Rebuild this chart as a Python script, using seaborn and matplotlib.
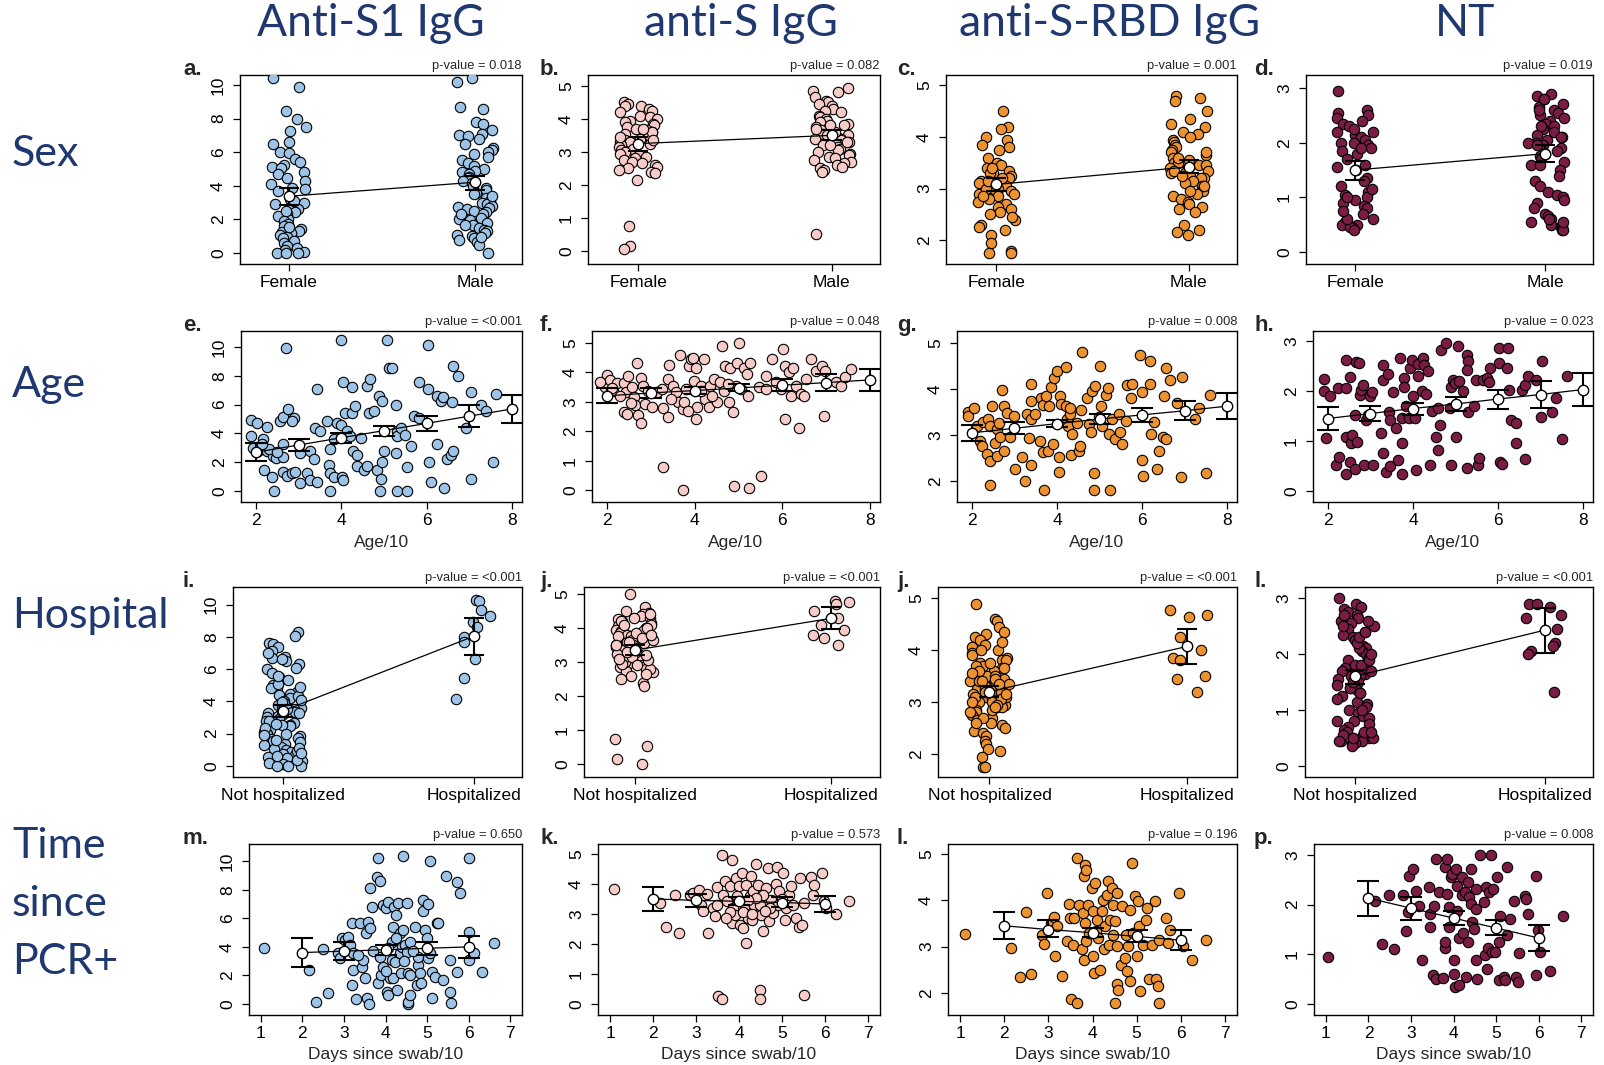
import numpy as np
import pandas as pd
import matplotlib
matplotlib.use("Agg")
import matplotlib.pyplot as plt
import seaborn as sns

sns.set_theme(style="white")
plt.rcParams['font.family'] = ['Liberation Sans', 'DejaVu Sans']
np.random.seed(7)  # reproducible strip jitter only

# ------------------------------------------------------------------ labels
col_titles = ["Anti-S1 IgG", "anti-S IgG", "anti-S-RBD IgG", "NT"]
row_titles = [["Sex"], ["Age"], ["Hospital"], ["Time", "since", "PCR+"]]
letters = [["a.", "b.", "c.", "d."], ["e.", "f.", "g.", "h."],
           ["i.", "j.", "j.", "l."], ["m.", "k.", "l.", "p."]]
pvalues = [["0.018", "0.082", "0.001", "0.019"],
           ["<0.001", "0.048", "0.008", "0.023"],
           ["<0.001", "<0.001", "<0.001", "<0.001"],
           ["0.650", "0.573", "0.196", "0.008"]]
sex_levels = ["Female", "Male"]
hosp_levels = ["Not hospitalized", "Hospitalized"]
colors = ["#9DC3E6", "#F6CBC8", "#EC9230", "#7A1C44"]

# ------------------------------------------------------------------ row 1: sex
s1_female = [10.4, 9.9, 8.45, 8.0, 7.5, 7.25, 6.6, 6.5, 6.0, 5.95, 5.6, 5.45, 5.25, 5.15, 5.05, 4.8, 4.7,
             4.45, 4.3, 4.1, 3.85, 3.8, 3.7, 3.2, 3.0, 2.9, 2.7, 2.6, 2.45, 2.35, 2.2, 2.0, 1.9, 1.75, 1.6,
             1.45, 1.3, 1.25, 1.2, 1.1, 0.95, 0.9, 0.7, 0.6, 0.45, 0.3, 0.2, 0.05, 0.0, 0.0, 0.0, 2.5, 3.1, 1.55]
s1_male = [10.45, 10.2, 8.7, 8.6, 7.8, 7.7, 7.35, 7.1, 7.05, 6.95, 6.8, 6.5, 6.25, 6.15, 6.0, 5.9, 5.7, 5.55,
           5.35, 5.2, 5.0, 4.9, 4.8, 4.7, 4.55, 4.45, 4.3, 4.2, 4.0, 3.9, 3.75, 3.6, 3.5, 3.3, 3.1, 3.0, 2.9,
           2.8, 2.75, 2.7, 2.6, 2.5, 2.45, 2.3, 2.2, 2.1, 2.05, 1.95, 1.8, 1.65, 1.5, 1.4, 1.3, 1.2, 1.1, 1.0,
           0.9, 0.8, 0.65, 0.5, 0.0, 3.4, 2.35, 1.7, 0.95]
s_female = [4.5, 4.45, 4.4, 4.4, 4.3, 4.25, 4.2, 4.1, 4.05, 4.0, 3.95, 3.9, 3.85, 3.8, 3.75, 3.7, 3.65, 3.6,
            3.55, 3.5, 3.45, 3.4, 3.35, 3.3, 3.3, 3.25, 3.2, 3.15, 3.1, 3.05, 3.0, 2.95, 2.9, 2.85, 2.8, 2.75,
            2.7, 2.65, 2.6, 2.55, 2.5, 2.45, 2.4, 2.35, 2.15, 3.5, 3.6, 3.7, 3.35, 3.45, 0.75, 0.15, 0.05]
s_male = [4.95, 4.85, 4.8, 4.65, 4.55, 4.5, 4.45, 4.4, 4.3, 4.25, 4.2, 4.1, 4.05, 4.0, 3.95, 3.9, 3.85, 3.8,
          3.75, 3.7, 3.65, 3.6, 3.55, 3.55, 3.5, 3.5, 3.45, 3.45, 3.4, 3.4, 3.35, 3.3, 3.25, 3.2, 3.15, 3.1,
          3.05, 3.0, 2.95, 2.9, 2.85, 2.8, 2.75, 2.7, 2.65, 2.6, 2.55, 2.5, 2.45, 2.4, 3.6, 3.7, 3.3, 3.8,
          3.2, 0.5]
rbd_female = [4.5, 4.2, 4.15, 4.0, 3.95, 3.85, 3.8, 3.75, 3.6, 3.5, 3.45, 3.4, 3.35, 3.3, 3.25, 3.2, 3.15,
              3.1, 3.1, 3.05, 3.0, 3.0, 2.95, 2.9, 2.85, 2.8, 2.75, 2.7, 2.65, 2.6, 2.55, 2.5, 2.4, 2.3, 2.25,
              2.2, 2.1, 1.95, 1.8, 1.75, 1.75, 3.2, 3.3, 3.1, 3.0, 2.9, 3.4, 2.85, 3.15, 2.45]
rbd_male = [4.8, 4.75, 4.7, 4.5, 4.35, 4.25, 4.2, 4.1, 4.05, 4.0, 3.95, 3.9, 3.85, 3.8, 3.75, 3.7, 3.65, 3.6,
            3.55, 3.5, 3.5, 3.45, 3.45, 3.4, 3.4, 3.35, 3.3, 3.3, 3.25, 3.2, 3.2, 3.15, 3.1, 3.05, 3.0, 2.95,
            2.9, 2.85, 2.8, 2.75, 2.7, 2.65, 2.6, 2.55, 2.3, 2.2, 2.15, 2.1, 3.35, 3.6, 3.7, 3.25, 3.05, 2.95]
nt_female = [2.95, 2.6, 2.55, 2.5, 2.45, 2.4, 2.35, 2.3, 2.2, 2.15, 2.1, 2.05, 2.0, 1.95, 1.9, 1.85, 1.8, 1.7,
             1.6, 1.55, 1.5, 1.35, 1.3, 1.2, 1.1, 1.05, 1.0, 0.95, 0.9, 0.85, 0.8, 0.7, 0.6, 0.55, 0.55, 0.5,
             0.5, 0.45, 0.45, 0.4, 1.0, 2.2, 2.0, 0.6, 2.25, 1.15, 0.75, 1.9]
nt_male = [2.9, 2.85, 2.8, 2.7, 2.65, 2.6, 2.55, 2.5, 2.45, 2.4, 2.35, 2.3, 2.25, 2.2, 2.15, 2.1, 2.05, 2.0,
           1.95, 1.9, 1.85, 1.8, 1.75, 1.7, 1.65, 1.6, 1.5, 1.4, 1.3, 1.2, 1.1, 1.05, 1.0, 0.95, 0.9, 0.8, 0.7,
           0.65, 0.6, 0.55, 0.5, 0.5, 0.45, 0.45, 0.4, 0.4, 2.0, 2.1, 1.95, 2.6, 2.8, 0.55, 0.6, 1.6, 2.3]

# group means and 95% CI (Female, Male)
sex_mean = [[3.38, 4.22], [3.25, 3.5], [3.08, 3.42], [1.5, 1.8]]
sex_lo = [[2.88, 3.75], [3.02, 3.35], [2.95, 3.3], [1.32, 1.65]]
sex_hi = [[3.9, 4.6], [3.45, 3.65], [3.2, 3.55], [1.67, 1.95]]

# ------------------------------------------------------------------ row 2: age (x = Age/10, y)
age_s1 = [(1.88, 4.9), (2.03, 4.75), (2.25, 4.45), (1.88, 3.8), (1.94, 3.0), (2.17, 3.6), (2.05, 2.75),
          (2.25, 2.75), (2.2, 1.5), (2.37, 1.0), (2.4, 2.45), (2.42, 0.0), (2.47, 2.3), (2.56, 4.85),
          (2.64, 5.15), (2.76, 5.7), (2.88, 5.1), (2.84, 4.85), (2.7, 9.95), (2.64, 3.3), (2.64, 2.4),
          (2.64, 1.3), (2.72, 1.05), (2.84, 1.25), (2.92, 1.3), (3.03, 0.55), (3.03, 2.65), (3.19, 1.25),
          (3.27, 0.75), (3.27, 2.75), (3.35, 2.2), (3.39, 4.4), (3.43, 7.1), (3.43, 0.65), (3.5, 4.15),
          (3.66, 4.85), (3.74, 2.9), (3.72, 1.8), (3.74, 1.25), (3.74, 0.0), (3.82, 1.0), (3.82, 3.6),
          (3.9, 4.75), (3.98, 4.6), (4.0, 10.45), (4.02, 1.0), (4.05, 0.75), (4.05, 7.6), (4.09, 5.45),
          (4.13, 4.15), (4.2, 3.8), (4.25, 7.2), (4.27, 2.75), (4.25, 5.45), (4.33, 5.9), (4.37, 2.5),
          (4.37, 1.75), (4.45, 3.7), (4.53, 1.45), (4.6, 1.75), (4.6, 7.3), (4.66, 7.8), (4.64, 5.45),
          (4.76, 5.55), (4.84, 1.45), (4.88, 6.6), (4.92, 0.85), (4.9, 0.0), (4.96, 6.25), (4.96, 2.05),
          (5.0, 2.75), (5.07, 10.45), (5.11, 8.55), (5.19, 8.55), (5.27, 5.95), (5.27, 2.65), (5.31, 4.15),
          (5.31, 3.8), (5.31, 0.0), (5.39, 4.4), (5.5, 3.9), (5.54, 1.7), (5.54, 0.0), (5.62, 3.1),
          (5.7, 5.2), (5.82, 5.1), (5.82, 7.6), (6.02, 7.1), (6.02, 10.15), (6.06, 2.0), (6.1, 0.65),
          (6.25, 3.3), (6.25, 6.6), (6.33, 6.25), (6.37, 6.5), (6.41, 0.2), (6.47, 2.2), (6.56, 2.5),
          (6.6, 6.15), (6.62, 2.75), (6.62, 8.7), (6.72, 8.0), (7.04, 6.9), (6.92, 4.4), (7.04, 0.85),
          (7.27, 6.0), (7.39, 5.55), (7.55, 2.0), (7.62, 6.7), (2.3, 2.9), (2.5, 2.7), (2.15, 3.3)]
age_s = [(1.91, 3.6), (1.95, 3.5), (2.0, 3.9), (2.05, 3.75), (1.83, 3.66), (2.14, 3.38), (2.23, 3.64),
         (2.37, 3.64), (2.37, 2.65), (2.46, 2.6), (2.48, 3.86), (2.42, 3.33), (2.56, 3.5), (2.6, 3.16),
         (2.63, 2.88), (2.68, 4.33), (2.71, 2.54), (2.77, 3.82), (2.78, 2.27), (2.82, 3.55), (2.86, 2.94),
         (2.94, 3.38), (3.03, 2.82), (3.13, 3.33), (3.24, 3.44), (3.28, 2.79), (3.28, 0.79), (3.39, 2.49),
         (3.39, 3.77), (3.41, 4.24), (3.5, 3.55), (3.57, 3.33), (3.66, 4.59), (3.61, 2.99), (3.73, 2.77),
         (3.73, 0.0), (3.76, 2.99), (3.8, 3.44), (3.87, 4.22), (3.91, 4.44), (3.96, 4.5), (3.98, 3.71),
         (4.02, 4.14), (4.02, 2.43), (4.05, 2.82), (4.13, 3.55), (4.2, 4.44), (4.24, 3.1), (4.32, 2.82),
         (4.35, 3.55), (4.43, 3.77), (4.51, 2.99), (4.58, 3.66), (4.61, 4.89), (4.66, 3.38), (4.7, 4.22),
         (4.78, 2.99), (4.81, 4.14), (4.87, 2.66), (4.89, 0.15), (4.93, 3.55), (4.97, 4.33), (5.0, 5.0),
         (5.05, 3.44), (5.12, 4.14), (5.2, 3.93), (5.24, 0.06), (5.25, 4.33), (5.22, 3.21), (5.46, 3.5),
         (5.5, 0.48), (5.62, 3.44), (5.63, 3.86), (5.77, 4.44), (5.85, 3.66), (5.97, 3.44), (6.01, 4.78),
         (6.05, 4.22), (6.05, 2.43), (6.16, 4.0), (6.2, 3.21), (6.24, 4.14), (6.31, 3.55), (6.37, 2.12),
         (6.43, 3.27), (6.5, 3.21), (6.54, 3.77), (6.66, 4.44), (6.77, 4.05), (6.91, 4.22), (6.96, 2.52),
         (6.98, 4.05), (7.23, 3.68), (7.34, 3.55), (7.44, 3.83), (7.57, 4.1), (2.1, 3.45), (2.3, 3.2),
         (2.55, 2.95), (3.45, 3.1), (3.85, 2.7), (4.15, 3.35), (4.4, 3.2), (4.75, 3.6)]
age_rbd = [(1.9, 3.5), (1.92, 3.42), (2.04, 3.58), (2.12, 3.2), (2.2, 2.88), (2.24, 2.77), (2.27, 3.29),
           (2.35, 2.59), (2.39, 3.35), (2.43, 2.45), (2.42, 1.92), (2.43, 3.2), (2.47, 3.63), (2.55, 2.84),
           (2.59, 3.13), (2.59, 2.55), (2.63, 3.27), (2.67, 2.95), (2.71, 3.99), (2.75, 3.63), (2.76, 2.66),
           (2.82, 3.49), (2.9, 2.95), (3.0, 3.42), (3.02, 2.27), (3.18, 2.52), (3.25, 2.01), (3.29, 3.45),
           (3.35, 2.93), (3.38, 3.36), (3.4, 4.12), (3.4, 3.74), (3.4, 2.35), (3.49, 3.45), (3.61, 2.88),
           (3.62, 3.81), (3.66, 3.65), (3.66, 2.64), (3.7, 1.8), (3.78, 2.66), (3.74, 3.85), (3.82, 3.63),
           (3.87, 4.04), (3.9, 2.81), (3.93, 4.24), (4.0, 4.39), (4.04, 2.52), (4.04, 2.21), (4.08, 3.85),
           (4.1, 3.68), (4.2, 4.47), (4.2, 3.63), (4.24, 3.35), (4.27, 3.2), (4.31, 3.45), (4.31, 3.6),
           (4.33, 2.57), (4.35, 3.02), (4.47, 3.27), (4.51, 2.66), (4.55, 2.77), (4.56, 3.55), (4.58, 4.81),
           (4.7, 3.81), (4.75, 3.24), (4.8, 3.06), (4.82, 3.96), (4.86, 2.19), (4.86, 1.8), (4.9, 4.06),
           (4.98, 3.4), (5.0, 4.5), (5.04, 3.63), (5.06, 3.2), (5.14, 3.88), (5.2, 4.03), (5.22, 3.02),
           (5.25, 1.8), (5.29, 3.35), (5.37, 2.91), (5.46, 3.45), (5.49, 3.06), (5.53, 2.81), (5.61, 3.31),
           (5.65, 4.09), (5.77, 4.12), (5.75, 3.81), (5.96, 4.73), (6.0, 2.47), (6.0, 3.94), (6.02, 2.12),
           (6.18, 4.1), (6.18, 4.6), (6.22, 3.02), (6.27, 3.29), (6.39, 2.65), (6.35, 2.27), (6.48, 2.95),
           (6.51, 3.86), (6.55, 4.46), (6.55, 2.91), (6.65, 4.19), (6.82, 3.7), (6.94, 4.27), (6.92, 2.09),
           (7.25, 3.35), (7.33, 3.6), (7.49, 2.19), (7.6, 3.88)]
age_nt = [(1.92, 2.25), (1.92, 2.0), (2.04, 1.9), (1.96, 1.06), (2.24, 2.06), (2.2, 0.52), (2.26, 0.69),
          (2.42, 2.63), (2.43, 2.06), (2.51, 2.28), (2.43, 1.09), (2.43, 0.35), (2.51, 0.59), (2.55, 0.96),
          (2.57, 1.13), (2.63, 1.53), (2.63, 0.44), (2.65, 2.58), (2.68, 0.99), (2.73, 2.56), (2.75, 1.93),
          (2.78, 2.02), (2.82, 2.13), (2.86, 0.52), (2.9, 1.43), (2.94, 1.53), (2.98, 1.9), (3.04, 1.98),
          (3.06, 0.52), (3.25, 1.16), (3.29, 2.53), (3.29, 2.23), (3.29, 0.76), (3.37, 0.39), (3.41, 2.35),
          (3.44, 1.59), (3.45, 1.43), (3.45, 0.5), (3.53, 1.98), (3.61, 1.26), (3.65, 0.62), (3.69, 2.67),
          (3.73, 0.96), (3.73, 1.46), (3.75, 0.35), (3.78, 2.26), (3.8, 2.08), (3.84, 1.71), (3.9, 1.46),
          (3.92, 2.46), (3.98, 2.62), (4.0, 1.9), (4.04, 1.46), (4.08, 0.42), (4.12, 2.55), (4.12, 2.3),
          (4.2, 2.0), (4.24, 2.67), (4.26, 2.53), (4.31, 1.95), (4.35, 2.4), (4.39, 0.52), (4.45, 1.61),
          (4.55, 1.09), (4.59, 1.66), (4.59, 0.82), (4.63, 1.33), (4.65, 2.83), (4.77, 2.97), (4.86, 1.66),
          (4.9, 0.52), (4.9, 2.08), (4.94, 2.23), (4.98, 2.16), (5.0, 1.09), (5.06, 2.91), (5.08, 2.2),
          (5.18, 2.0), (5.26, 0.46), (5.27, 2.73), (5.29, 2.6), (5.27, 2.43), (5.29, 1.59), (5.43, 1.71),
          (5.49, 2.23), (5.53, 0.52), (5.55, 0.66), (5.65, 2.23), (5.73, 2.26), (5.79, 2.18), (5.82, 2.46),
          (6.02, 2.56), (6.02, 2.87), (6.04, 0.59), (6.08, 0.54), (6.24, 2.87), (6.2, 2.46), (6.26, 2.02),
          (6.31, 1.43), (6.43, 1.36), (6.41, 0.96), (6.57, 2.03), (6.63, 2.13), (6.63, 0.64), (6.71, 2.31),
          (6.9, 2.23), (7.02, 2.6), (7.0, 1.49), (7.26, 1.59), (7.37, 1.86), (7.49, 1.04), (7.61, 2.31)]

age_grid = [2, 3, 4, 5, 6, 7, 8]
age_mean = [[2.7, 3.2, 3.7, 4.2, 4.7, 5.2, 5.7],
            [3.2, 3.3, 3.38, 3.47, 3.56, 3.65, 3.74],
            [3.05, 3.15, 3.25, 3.35, 3.44, 3.53, 3.63],
            [1.45, 1.55, 1.65, 1.74, 1.84, 1.93, 2.03]]
age_lo = [[2.1, 2.75, 3.35, 3.85, 4.15, 4.45, 4.75],
          [2.95, 3.12, 3.25, 3.35, 3.35, 3.37, 3.38],
          [2.88, 3.03, 3.17, 3.25, 3.28, 3.33, 3.35],
          [1.23, 1.4, 1.53, 1.6, 1.65, 1.67, 1.7]]
age_hi = [[3.35, 3.65, 4.05, 4.55, 5.2, 5.95, 6.65],
          [3.45, 3.47, 3.5, 3.6, 3.78, 3.95, 4.12],
          [3.23, 3.28, 3.33, 3.45, 3.6, 3.75, 3.92],
          [1.68, 1.71, 1.77, 1.88, 2.03, 2.2, 2.37]]

# ------------------------------------------------------------------ row 3: hospitalisation
s1_nonhosp = [8.3, 8.05, 7.6, 7.55, 7.35, 7.1, 6.75, 6.7, 6.5, 6.3, 6.1, 6.0, 5.75, 5.5, 5.3, 5.15, 5.0, 4.85,
              4.8, 4.6, 4.45, 4.4, 4.2, 4.05, 3.9, 3.8, 3.7, 3.6, 3.5, 3.35, 3.3, 3.2, 3.1, 3.0, 2.9, 2.8, 2.7,
              2.65, 2.55, 2.45, 2.3, 2.2, 2.1, 2.0, 1.95, 1.85, 1.75, 1.65, 1.55, 1.45, 1.35, 1.25, 1.15, 1.05,
              0.95, 0.85, 0.75, 0.65, 0.55, 0.45, 0.3, 0.2, 0.1, 0.0, 0.0, 0.0, 2.5, 3.4, 4.3, 1.3, 0.9, 2.75,
              5.1, 6.6, 3.95, 2.35, 1.6, 0.6, 4.9, 3.25, 2.0, 1.1, 0.35, 5.6, 7.0, 3.55, 2.6, 1.9, 4.1, 0.8]
s1_hosp = [10.3, 10.2, 9.7, 9.3, 8.9, 8.6, 8.0, 7.7, 6.6, 5.45, 4.15]
s_nonhosp = [5.0, 4.6, 4.5, 4.45, 4.4, 4.35, 4.3, 4.25, 4.2, 4.15, 4.1, 4.05, 4.0, 3.95, 3.9, 3.85, 3.8, 3.75,
             3.7, 3.65, 3.6, 3.55, 3.5, 3.45, 3.4, 3.35, 3.3, 3.25, 3.2, 3.15, 3.1, 3.05, 3.0, 2.95, 2.9, 2.85,
             2.8, 2.75, 2.7, 2.6, 2.5, 2.4, 2.3, 4.4, 4.2, 4.0, 3.8, 3.6, 3.4, 3.2, 3.0, 2.8, 3.9, 3.7, 3.5,
             3.3, 3.1, 3.45, 3.55, 3.65, 3.35, 3.25, 3.75, 3.15, 2.65, 4.1, 4.3, 3.85, 3.05, 2.95, 3.5, 3.4,
             3.6, 3.3, 3.2, 3.7, 3.1, 2.9, 4.0, 3.8, 0.75, 0.55, 0.15, 0.0]
s_hosp = [4.8, 4.75, 4.7, 4.5, 4.3, 4.1, 3.95, 3.8, 3.7, 3.5]
rbd_nonhosp = [4.88, 4.6, 4.55, 4.45, 4.35, 4.3, 4.25, 4.2, 4.1, 4.05, 4.0, 3.95, 3.9, 3.85, 3.8, 3.75, 3.7,
               3.65, 3.6, 3.55, 3.5, 3.45, 3.4, 3.35, 3.3, 3.25, 3.2, 3.15, 3.1, 3.05, 3.0, 2.95, 2.9, 2.85,
               2.8, 2.75, 2.7, 2.65, 2.6, 2.55, 2.5, 2.45, 2.4, 2.35, 2.25, 2.2, 2.1, 2.05, 1.95, 1.75, 1.75,
               3.7, 3.5, 3.3, 3.1, 2.9, 3.6, 3.4, 3.2, 3.0, 2.8, 3.45, 3.25, 3.05, 3.35, 3.15, 2.95, 3.8, 4.0,
               2.7, 3.55, 3.65, 2.6, 2.85, 3.75, 4.15, 3.3, 3.1, 3.2, 3.0, 3.4, 2.9]
rbd_hosp = [4.77, 4.67, 4.63, 4.25, 4.0, 3.85, 3.8, 3.5, 3.45, 3.2]
nt_nonhosp = [3.0, 2.9, 2.85, 2.8, 2.75, 2.7, 2.65, 2.6, 2.55, 2.5, 2.45, 2.4, 2.35, 2.3, 2.25, 2.2, 2.15, 2.1,
              2.05, 2.0, 1.95, 1.9, 1.85, 1.8, 1.75, 1.7, 1.65, 1.6, 1.55, 1.5, 1.45, 1.4, 1.35, 1.3, 1.25, 1.2,
              1.15, 1.1, 1.05, 1.0, 0.95, 0.9, 0.85, 0.8, 0.75, 0.7, 0.65, 0.6, 0.55, 0.5, 0.5, 0.45, 0.45,
              0.4, 0.4, 0.35, 2.5, 2.1, 1.8, 1.3, 0.6, 0.5, 2.6, 2.2, 1.9, 1.6, 1.0, 0.55, 0.45, 2.0, 1.4, 0.8,
              2.3, 1.7, 2.4, 0.5, 0.6, 1.5, 2.7]
nt_hosp = [2.9, 2.9, 2.85, 2.7, 2.65, 2.45, 2.2, 2.15, 2.05, 2.0, 1.33]

hosp_mean = [[3.4, 8.05], [3.35, 4.28], [3.2, 4.07], [1.6, 2.43]]
hosp_lo = [[3.05, 6.9], [3.2, 3.98], [3.1, 3.73], [1.46, 2.02]]
hosp_hi = [[3.75, 9.2], [3.5, 4.6], [3.3, 4.4], [1.72, 2.83]]

# ------------------------------------------------------------------ row 4: days since swab (x = days/10, y)
days_s1 = [(1.08, 3.9), (2.17, 2.38), (2.33, 0.12), (2.51, 3.85), (2.63, 0.75), (2.87, 3.55), (2.91, 3.2),
           (2.95, 4.65), (3.03, 4.5), (3.11, 4.7), (3.15, 4.1), (3.19, 5.65), (3.19, 1.33), (3.21, 2.38),
           (3.23, 3.55), (3.29, 0.35), (3.39, 5.65), (3.43, 2.6), (3.47, 3.1), (3.51, 1.85), (3.53, 4.95),
           (3.55, 0.4), (3.59, 5.75), (3.61, 0.0), (3.63, 5.3), (3.63, 8.15), (3.67, 6.8), (3.79, 8.9),
           (3.83, 10.2), (3.83, 1.45), (3.87, 8.6), (3.87, 3.3), (3.89, 2.0), (3.95, 6.9), (3.95, 2.6),
           (4.01, 6.7), (4.03, 0.85), (4.07, 7.15), (4.07, 0.65), (4.11, 1.8), (4.15, 3.1), (4.15, 4.35),
           (4.19, 1.8), (4.19, 5.4), (4.21, 6.8), (4.23, 2.95), (4.26, 6.2), (4.27, 1.0), (4.31, 7.05),
           (4.34, 4.95), (4.35, 3.55), (4.37, 2.15), (4.39, 4.0), (4.43, 5.15), (4.43, 10.35), (4.47, 4.1),
           (4.51, 7.05), (4.51, 3.65), (4.53, 2.15), (4.53, 0.0), (4.55, 0.15), (4.58, 4.35), (4.59, 0.65),
           (4.71, 5.4), (4.75, 1.33), (4.77, 2.75), (4.79, 3.3), (4.83, 2.15), (4.85, 1.45), (4.9, 6.5),
           (4.91, 7.25), (4.95, 5.15), (4.99, 4.6), (5.03, 7.0), (5.03, 3.2), (5.07, 10.0), (5.07, 3.55),
           (5.11, 2.25), (5.11, 0.4), (5.19, 1.9), (5.23, 5.65), (5.27, 5.65), (5.39, 1.7), (5.46, 8.95),
           (5.55, 3.1), (5.54, 0.85), (5.58, 0.05), (5.72, 8.55), (5.73, 2.25), (5.8, 7.8), (6.0, 10.2),
           (6.0, 5.05), (6.0, 3.1), (6.12, 3.55), (6.32, 2.25), (6.61, 4.25), (3.7, 3.7), (4.05, 3.9),
           (4.25, 4.6), (4.45, 3.0), (4.65, 3.7), (3.35, 3.4), (4.0, 2.3), (4.6, 2.0)]
days_s = [(1.1, 3.83), (2.16, 3.36), (2.31, 2.58), (2.5, 3.64), (2.61, 2.36), (2.85, 3.62), (2.94, 3.7),
          (3.06, 3.81), (3.11, 3.31), (3.16, 3.11), (3.25, 3.67), (3.29, 2.36), (3.4, 3.2), (3.44, 2.92),
          (3.48, 3.89), (3.52, 0.28), (3.6, 4.98), (3.61, 0.16), (3.63, 3.62), (3.67, 4.09), (3.71, 3.42),
          (3.79, 3.92), (3.83, 4.79), (3.83, 2.69), (3.87, 3.2), (3.9, 2.97), (3.94, 4.2), (3.96, 3.53),
          (4.0, 3.92), (4.02, 2.64), (4.06, 4.37), (4.1, 2.53), (4.13, 3.31), (4.16, 2.03), (4.17, 3.98),
          (4.21, 2.86), (4.25, 3.59), (4.29, 4.26), (4.31, 2.81), (4.33, 3.75), (4.36, 3.31), (4.4, 4.65),
          (4.44, 3.98), (4.48, 3.31), (4.48, 0.47), (4.48, 0.16), (4.52, 2.97), (4.56, 2.42), (4.63, 3.86),
          (4.67, 4.54), (4.69, 2.75), (4.75, 3.47), (4.79, 3.03), (4.85, 4.0), (4.88, 4.56), (4.91, 3.31),
          (4.94, 3.75), (5.02, 4.37), (5.06, 2.81), (5.1, 3.2), (5.17, 3.64), (5.21, 3.92), (5.25, 3.31),
          (5.32, 2.86), (5.39, 2.58), (5.42, 4.2), (5.46, 2.64), (5.52, 3.36), (5.52, 0.3), (5.67, 4.22),
          (5.71, 3.64), (5.75, 3.95), (5.94, 4.37), (5.98, 3.42), (6.02, 3.2), (6.25, 3.0), (6.57, 3.42),
          (3.79, 3.08), (4.1, 3.08), (4.56, 3.64), (4.71, 3.2), (4.4, 3.53), (3.48, 3.31), (3.95, 3.6),
          (4.2, 3.45), (4.6, 3.1), (5.0, 3.5), (4.3, 3.0), (3.7, 2.85)]
days_rbd = [(1.1, 3.27), (2.15, 2.97), (2.36, 2.34), (2.5, 3.75), (2.61, 2.41), (2.86, 3.26), (2.91, 3.06),
            (2.97, 4.16), (3.05, 3.51), (3.12, 3.65), (3.16, 2.79), (3.2, 3.44), (3.31, 2.36), (3.42, 3.12),
            (3.46, 3.92), (3.5, 3.62), (3.51, 1.86), (3.56, 3.04), (3.59, 3.62), (3.64, 1.77), (3.65, 4.91),
            (3.69, 3.91), (3.76, 2.94), (3.79, 3.73), (3.8, 2.72), (3.8, 4.52), (3.84, 4.76), (3.86, 4.66),
            (3.82, 3.51), (3.86, 3.12), (3.89, 3.91), (3.91, 3.29), (3.99, 4.27), (4.0, 3.76), (4.02, 2.79),
            (4.04, 2.43), (4.06, 4.37), (4.08, 3.33), (4.1, 3.58), (4.13, 3.19), (4.16, 2.5), (4.21, 3.76),
            (4.23, 4.01), (4.26, 2.94), (4.28, 3.44), (4.32, 4.12), (4.35, 4.41), (4.38, 3.04), (4.4, 3.58),
            (4.44, 4.27), (4.46, 3.91), (4.47, 3.26), (4.51, 3.55), (4.55, 4.16), (4.55, 3.01), (4.56, 2.18),
            (4.51, 1.77), (4.58, 2.07), (4.65, 2.61), (4.68, 3.87), (4.74, 2.76), (4.77, 3.26), (4.79, 2.47),
            (4.81, 3.01), (4.85, 2.25), (4.86, 3.8), (4.89, 4.81), (4.92, 3.29), (4.96, 4.09), (5.0, 2.79),
            (5.04, 3.98), (5.06, 3.44), (5.08, 2.04), (5.15, 3.04), (5.21, 3.58), (5.24, 3.83), (5.28, 2.29),
            (5.34, 3.04), (5.41, 3.98), (5.45, 2.29), (5.49, 2.14), (5.52, 1.77), (5.52, 3.15), (5.67, 3.62),
            (5.71, 3.08), (5.75, 3.37), (5.97, 4.16), (6.06, 3.01), (6.26, 2.72), (6.57, 3.15)]
days_nt = [(1.05, 0.95), (2.15, 2.08), (2.33, 1.2), (2.48, 2.2), (2.59, 1.1), (2.81, 2.2), (2.89, 1.46),
           (2.95, 2.57), (2.93, 1.85), (3.05, 2.72), (3.13, 2.28), (3.2, 1.98), (3.26, 0.88), (3.43, 2.35),
           (3.45, 1.82), (3.45, 1.55), (3.51, 0.59), (3.55, 1.98), (3.59, 0.51), (3.6, 2.92), (3.66, 2.25),
           (3.75, 0.53), (3.8, 1.12), (3.8, 1.25), (3.81, 2.75), (3.85, 2.92), (3.85, 2.22), (3.89, 1.95),
           (3.89, 1.55), (3.93, 2.55), (3.97, 2.62), (4.01, 0.88), (4.01, 0.61), (4.04, 0.35), (4.06, 2.72),
           (4.09, 2.38), (4.09, 1.88), (4.13, 1.32), (4.14, 0.38), (4.19, 2.2), (4.2, 2.55), (4.22, 1.42),
           (4.27, 2.25), (4.29, 0.55), (4.33, 1.25), (4.35, 2.45), (4.36, 2.15), (4.4, 2.02), (4.42, 2.72),
           (4.44, 1.65), (4.48, 1.52), (4.52, 1.92), (4.53, 2.32), (4.53, 0.88), (4.56, 0.51), (4.63, 3.0),
           (4.71, 2.05), (4.75, 0.98), (4.77, 2.35), (4.79, 0.71), (4.81, 1.12), (4.84, 2.25), (4.88, 3.0),
           (4.9, 1.05), (4.94, 2.32), (4.98, 1.05), (5.02, 2.55), (5.06, 0.48), (5.08, 1.25), (5.1, 1.78),
           (5.18, 0.55), (5.22, 0.48), (5.26, 2.75), (5.26, 1.38), (5.34, 1.72), (5.42, 2.08), (5.46, 0.55),
           (5.51, 0.45), (5.53, 1.02), (5.68, 2.18), (5.7, 2.12), (5.76, 1.82), (5.95, 2.57), (5.95, 0.59),
           (6.03, 1.05), (5.99, 1.48), (6.26, 0.66), (6.57, 1.77)]

days_grid = [2, 3, 4, 5, 6]
days_mean = [[3.6, 3.7, 3.8, 3.9, 4.0],
             [3.5, 3.45, 3.42, 3.38, 3.33],
             [3.45, 3.37, 3.3, 3.22, 3.14],
             [2.13, 1.93, 1.73, 1.53, 1.33]]
days_lo = [[2.6, 3.05, 3.4, 3.45, 3.25],
           [3.1, 3.22, 3.3, 3.22, 3.05],
           [3.17, 3.2, 3.2, 3.1, 2.93],
           [1.77, 1.7, 1.6, 1.38, 1.07]]
days_hi = [[4.6, 4.35, 4.15, 4.35, 4.75],
           [3.9, 3.68, 3.55, 3.55, 3.6],
           [3.75, 3.57, 3.4, 3.35, 3.37],
           [2.48, 2.15, 1.87, 1.7, 1.6]]

sex_data = [(s1_female, s1_male), (s_female, s_male), (rbd_female, rbd_male), (nt_female, nt_male)]
hosp_data = [(s1_nonhosp, s1_hosp), (s_nonhosp, s_hosp), (rbd_nonhosp, rbd_hosp), (nt_nonhosp, nt_hosp)]
age_data = [age_s1, age_s, age_rbd, age_nt]
days_data = [days_s1, days_s, days_rbd, days_nt]

# ------------------------------------------------------------------ layout (pixels)
W, H = 1604, 1065
rights = [522, 880, 1237, 1593]
row_lefts = [[240, 588, 946, 1306], [241, 592, 957, 1313], [233, 584, 938, 1305], [249, 598, 948, 1314]]
row_tb = [(75, 264), (331, 502), (587, 777), (844, 1015)]
letter_x = [183, 540, 897, 1254]
ylims = [[(-0.65, 10.6), (-0.4, 5.33), (1.54, 5.2), (-0.22, 3.24)],
         [(-0.75, 11.1), (-0.4, 5.4), (1.55, 5.26), (-0.22, 3.2)],
         [(-0.7, 11.1), (-0.37, 5.2), (1.56, 5.21), (-0.2, 3.2)],
         [(-0.77, 11.2), (-0.37, 5.33), (1.52, 5.22), (-0.22, 3.22)]]
yticks = [[0, 2, 4, 6, 8, 10], [0, 1, 2, 3, 4, 5], [2, 3, 4, 5], [0, 1, 2, 3]]

TITLE_COLOR = "#1F3870"
MS = 7.5

fig = plt.figure(figsize=(W / 100, H / 100), dpi=100)


def style_axis(ax, r, c):
    for s in ax.spines.values():
        s.set_visible(True)
        s.set_color("black")
        s.set_linewidth(1.0)
    ax.set_ylim(*ylims[r][c])
    ax.set_yticks(yticks[c])
    ax.set_yticklabels([str(t) for t in yticks[c]], rotation=90, va="center")
    ax.tick_params(axis="both", which="both", direction="out", length=5, width=0.9,
                   labelsize=12.5, colors="black", bottom=True, left=True, top=False, right=False)
    ax.tick_params(axis="y", pad=5)
    ax.tick_params(axis="x", pad=3)
    ax.set_xlabel("")
    ax.set_ylabel("")
    ax.grid(False)
    ax.annotate("p-value = " + pvalues[r][c], xy=(1, 1), xycoords="axes fraction", xytext=(0, 2),
                textcoords="offset points", ha="right", va="bottom", fontsize=9.3)


def summary(ax, xs, m, lo, hi, capsize):
    m = np.asarray(m); lo = np.asarray(lo); hi = np.asarray(hi)
    ax.plot(xs, m, color="black", lw=0.9, zorder=4)
    ax.errorbar(xs, m, yerr=[m - lo, hi - m], fmt="none", ecolor="black", elinewidth=1.5,
                capsize=capsize, capthick=1.5, zorder=5)
    ax.plot(xs, m, "o", mfc="white", mec="black", ms=7.5, mew=1.0, zorder=6)


for r in range(4):
    top, bot = row_tb[r]
    for c in range(4):
        left = row_lefts[r][c]
        ax = fig.add_axes([left / W, 1 - bot / H, (rights[c] - left) / W, (bot - top) / H])
        col = colors[c]
        if r in (0, 2):
            levels = sex_levels if r == 0 else hosp_levels
            g1, g2 = sex_data[c] if r == 0 else hosp_data[c]
            df = pd.DataFrame({"group": [levels[0]] * len(g1) + [levels[1]] * len(g2),
                               "value": list(g1) + list(g2)})
            sns.stripplot(data=df, x="group", y="value", order=levels, jitter=0.1, color=col,
                          edgecolor="black", linewidth=0.8, size=MS, ax=ax, zorder=3)
            ax.set_xlim(-0.26, 1.25)
            if r == 0:
                summary(ax, [0, 1], sex_mean[c], sex_lo[c], sex_hi[c], 7)
            else:
                summary(ax, [0, 1], hosp_mean[c], hosp_lo[c], hosp_hi[c], 7)
            style_axis(ax, r, c)
        else:
            pts = age_data[c] if r == 1 else days_data[c]
            df = pd.DataFrame(pts, columns=["x", "y"])
            sns.scatterplot(data=df, x="x", y="y", color=col, edgecolor="black", linewidth=0.8,
                            s=MS ** 2, ax=ax, zorder=3, legend=False)
            if r == 1:
                summary(ax, age_grid, age_mean[c], age_lo[c], age_hi[c], 8)
                ax.set_xlim(1.65, 8.23)
                ax.set_xticks([2, 4, 6, 8])
            else:
                summary(ax, days_grid, days_mean[c], days_lo[c], days_hi[c], 8)
                ax.set_xlim(0.72, 7.28)
                ax.set_xticks([1, 2, 3, 4, 5, 6, 7])
            style_axis(ax, r, c)
            ax.set_xlabel("Age/10" if r == 1 else "Days since swab/10", fontsize=12.5,
                          labelpad=5 if r == 1 else 4)
        fig.text(letter_x[c] / W, 1 - top / H, letters[r][c], fontsize=16, fontweight="bold",
                 ha="left", va="baseline")

# column titles
title_x = [371, 741, 1110, 1465]
for c in range(4):
    fig.text(title_x[c] / W, 1 - 24 / H, col_titles[c], fontsize=32, color=TITLE_COLOR,
             family=["Lato", "DejaVu Sans"], ha="center", va="center")

# row titles
row_y = [[154], [385], [616], [846, 904, 962]]
for r in range(4):
    for line, yy in zip(row_titles[r], row_y[r]):
        fig.text(12 / W, 1 - yy / H, line, fontsize=31, color=TITLE_COLOR,
                 family=["Lato", "DejaVu Sans"], ha="left", va="center")

fig.savefig("out.png", dpi=100)
